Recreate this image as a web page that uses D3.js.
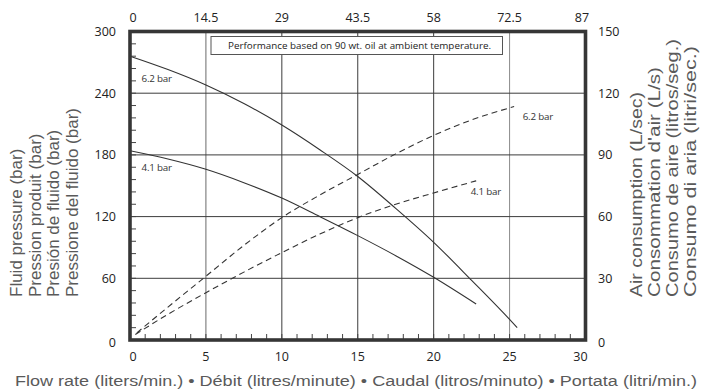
<!DOCTYPE html>
<html><head><meta charset="utf-8">
<script src="https://cdn.jsdelivr.net/npm/d3@7"></script>
<style>body{margin:0;background:#fff}</style>
</head><body><svg id="c" width="701" height="390"></svg>
<script>
const flowTicks=[0,5,10,15,20,25,30];
const topTickLabels=["0","14.5","29","43.5","58","72.5","87"];
const pressureTicks=[0,60,120,180,240,300];
const airTicks=[0,30,60,90,120,150];
const fluid62Flow=[0,2.5,5,7.5,10,12.5,15,17.5,20,22.5,25,25.5];
const fluid62Pressure=[276,263,248,230,209,185,159,128,95,58,20,12];
const fluid41Flow=[0,2.5,5,7.5,10,12.5,15,17.5,20,22.8];
const fluid41Pressure=[184,176,166,153,138,120,101.5,82,61,35];
const air62Flow=[0.45,2.5,5,7.5,10,12.5,15,17.5,20,22.5,25.3];
const air62=[3.5,16,31,46,59.5,70.5,80.5,90.5,99.5,107,113.5];
const air41Flow=[0.35,2.5,5,7.5,10,12.5,15,17.5,20,22.8];
const air41=[2.7,12.5,23,33,42.5,51.5,59.5,66,71.5,77.4];
const seriesLabels=["6.2 bar","4.1 bar"];
const note="Performance based on 90 wt. oil at ambient temperature.";
const xTitle="Flow rate (liters/min.) \u2022 Débit (litres/minute) \u2022 Caudal (litros/minuto) \u2022 Portata (litri/min.)";
const leftTitles=["Fluid pressure (bar)","Pression produit (bar)","Presión de fluido (bar)","Pressione del fluido (bar)"];
const rightTitles=["Air consumption (L/sec)","Consommation d'air (L/s)","Consumo de aire (litros/seg.)","Consumo di aria (litri/sec.)"];

const svg=d3.select("#c");
const L=130,R=585.5,T=31.5,B=340;
const x=d3.scaleLinear().domain([0,30]).range([L,R]);
const yP=d3.scaleLinear().domain([0,300]).range([B,T]);
const yA=d3.scaleLinear().domain([0,150]).range([B,T]);
const numFont="'Open Sans', sans-serif";
const titleFont="'Liberation Sans', Arial, sans-serif";

// grid
const g=svg.append("g");
g.selectAll("line.v").data(flowTicks.slice(1,-1)).join("line")
  .attr("x1",d=>x(d)).attr("x2",d=>x(d)).attr("y1",T).attr("y2",B)
  .attr("stroke",d=>d===5?"#6a6a6a":(d===25?"#8a8a8a":"#3c3c3c")).attr("stroke-width",1);
g.selectAll("line.h").data(pressureTicks.slice(1,-1)).join("line")
  .attr("x1",L).attr("x2",R).attr("y1",d=>yP(d)).attr("y2",d=>yP(d))
  .attr("stroke","#3c3c3c").attr("stroke-width",1);

// minor ticks
g.append("g").selectAll("line").data(d3.range(1,30)).join("line")
  .attr("x1",d=>x(d)).attr("x2",d=>x(d)).attr("y1",B).attr("y2",B-6)
  .attr("stroke","#444").attr("stroke-width",1);
g.append("g").selectAll("line").data(d3.range(12,300,12)).join("line")
  .attr("x1",L).attr("x2",L+6).attr("y1",d=>yP(d)).attr("y2",d=>yP(d))
  .attr("stroke","#444").attr("stroke-width",1);

// curves
const lineP=d3.line().x(d=>x(d[0])).y(d=>yP(d[1])).curve(d3.curveMonotoneX);
const lineA=d3.line().x(d=>x(d[0])).y(d=>yA(d[1])).curve(d3.curveMonotoneX);
const s62=d3.zip(fluid62Flow,fluid62Pressure), s41=d3.zip(fluid41Flow,fluid41Pressure);
const a62=d3.zip(air62Flow,air62), a41=d3.zip(air41Flow,air41);
[s62,s41].forEach(s=>svg.append("path").attr("d",lineP(s)).attr("fill","none").attr("stroke","#333").attr("stroke-width",1.1));
[a62,a41].forEach(s=>svg.append("path").attr("d",lineA(s)).attr("fill","none").attr("stroke","#333").attr("stroke-width",1.1).attr("stroke-dasharray","6,4"));

// series labels
const lab=(xx,yy,t)=>svg.append("text").attr("x",xx).attr("y",yy).text(t)
  .attr("font-family",numFont).attr("font-size",9.8).attr("fill","#333").attr("letter-spacing",-0.2);
lab(x(0)+11.5,yP(s62[0][1])+25.5,seriesLabels[0]);
lab(x(0)+11.5,yP(s41[0][1])+20.5,seriesLabels[1]);
const e62=a62[a62.length-1], e41=a41[a41.length-1];
lab(x(e62[0])+8.5,yA(e62[1])+13,seriesLabels[0]);
lab(x(e41[0])-5.5,yA(e41[1])+14,seriesLabels[1]);

// note box
svg.append("rect").attr("x",211).attr("y",36.5).attr("width",291.5).attr("height",18)
  .attr("fill","#fff").attr("stroke","#555").attr("stroke-width",1);
svg.append("text").attr("x",228).attr("y",49).text(note)
  .attr("font-family",numFont).attr("font-size",9.6).attr("fill","#222")
  .attr("textLength",263).attr("lengthAdjust","spacingAndGlyphs");

// frame
svg.append("rect").attr("x",L).attr("y",T).attr("width",R-L).attr("height",B-T)
  .attr("fill","none").attr("stroke","#363636").attr("stroke-width",3.6);

// tick labels
const tl=svg.append("g").attr("font-family",numFont).attr("font-size",12.5).attr("fill","#222");
const n=flowTicks.length;
tl.selectAll("text.b").data(flowTicks).join("text")
  .attr("x",(d,i)=>x(d)+(i===0?3:(i===n-1?-5:0))).attr("y",361).attr("text-anchor","middle").text(d=>d);
tl.selectAll("text.t").data(topTickLabels).join("text")
  .attr("x",(d,i)=>x(flowTicks[i])+(i===0?3:(i===n-1?-3.5:0))).attr("y",21.5).attr("text-anchor","middle").text(d=>d);
tl.selectAll("text.l").data(pressureTicks).join("text")
  .attr("x",116).attr("y",d=>yP(d)+4.5+(d===0?2:0)).attr("text-anchor","end").text(d=>d);
tl.selectAll("text.r").data(airTicks).join("text")
  .attr("x",598).attr("y",d=>yA(d)+4.5+(d===0?2:0)).attr("text-anchor","start").text(d=>d);

// titles
svg.append("text").attr("x",15).attr("y",386).text(xTitle)
  .attr("font-family",titleFont).attr("font-size",15.5).attr("fill","#5a5a5a")
  .attr("textLength",682).attr("lengthAdjust","spacingAndGlyphs");
const lx=[22,40.5,59.3,78];
leftTitles.forEach((t,i)=>svg.append("text").attr("transform",`translate(${lx[i]},297) rotate(-90)`)
  .text(t).attr("font-family",titleFont).attr("font-size",17).attr("fill","#5a5a5a"));
const rx=[641.5,659.5,677.5,695.5];
const rLen=[205,230,258,251];
rightTitles.forEach((t,i)=>svg.append("text").attr("transform",`translate(${rx[i]},297) rotate(-90)`)
  .text(t).attr("font-family",titleFont).attr("font-size",16).attr("fill","#5a5a5a")
  .attr("textLength",rLen[i]).attr("lengthAdjust","spacingAndGlyphs"));
</script></body></html>
